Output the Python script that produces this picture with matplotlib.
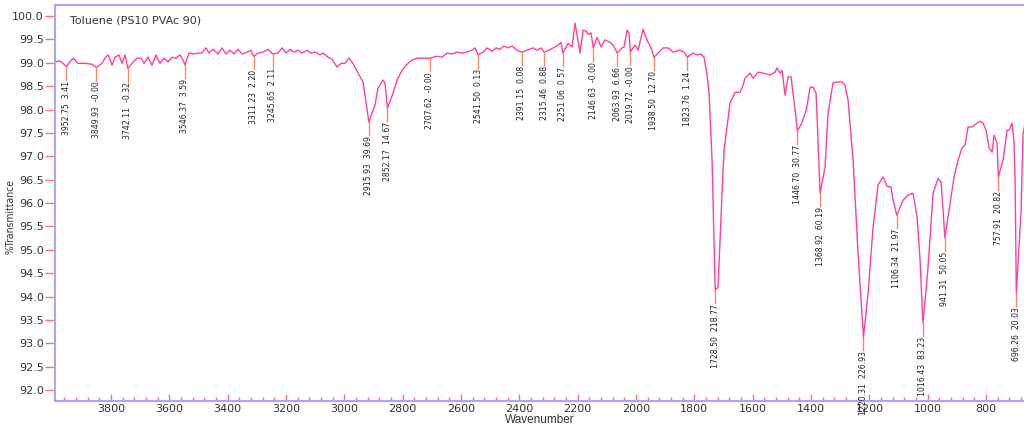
import matplotlib
matplotlib.use("Agg")
import matplotlib.pyplot as plt
from matplotlib.ticker import MultipleLocator, FormatStrFormatter
import numpy as np

# spectrum (wavenumber, %T)
wavenumber = [3992.0, 3974.9, 3964.6, 3952.8, 3938.7, 3928.4, 3914.7, 3901.0, 3887.3, 3865.1,
              3849.9, 3830.9, 3820.6, 3810.3, 3803.4, 3796.6, 3786.3, 3772.6, 3762.3, 3752.0,
              3742.1, 3728.0, 3710.9, 3697.1, 3686.9, 3673.1, 3659.4, 3645.7, 3632.0, 3618.3,
              3604.6, 3590.9, 3577.1, 3563.4, 3553.1, 3546.4, 3532.6, 3515.4, 3501.7, 3488.0,
              3474.3, 3464.0, 3450.3, 3433.1, 3419.4, 3405.7, 3392.0, 3378.3, 3364.6, 3350.9,
              3333.7, 3320.0, 3311.2, 3296.0, 3278.9, 3261.7, 3245.7, 3227.4, 3213.7, 3200.0,
              3186.3, 3172.6, 3158.9, 3145.1, 3128.0, 3114.3, 3100.6, 3083.4, 3073.1, 3056.0,
              3042.3, 3025.1, 3011.4, 2997.7, 2984.0, 2970.3, 2953.1, 2936.0, 2925.7, 2915.9,
              2894.9, 2884.6, 2867.4, 2860.6, 2852.2, 2833.1, 2819.4, 2802.3, 2785.1, 2768.0,
              2750.9, 2730.3, 2707.6, 2682.3, 2665.1, 2648.0, 2630.9, 2613.7, 2596.6, 2579.4,
              2562.3, 2552.0, 2541.5, 2524.6, 2510.9, 2493.7, 2480.0, 2466.3, 2452.6, 2438.9,
              2425.1, 2408.0, 2391.2, 2373.7, 2353.1, 2339.4, 2325.7, 2315.5, 2298.3, 2284.6,
              2267.4, 2257.1, 2251.1, 2233.1, 2219.4, 2209.1, 2202.3, 2192.0, 2181.7, 2171.4,
              2164.6, 2154.3, 2146.6, 2133.7, 2120.0, 2106.3, 2089.1, 2078.9, 2063.9, 2048.0,
              2041.1, 2030.9, 2024.0, 2019.7, 2003.4, 1993.1, 1976.0, 1962.3, 1948.6, 1938.5,
              1921.1, 1907.4, 1890.3, 1873.1, 1849.1, 1835.4, 1823.8, 1804.6, 1790.9, 1777.1,
              1766.9, 1756.6, 1749.7, 1739.4, 1728.5, 1718.9, 1705.1, 1698.3, 1677.7, 1660.6,
              1643.4, 1633.1, 1626.3, 1609.1, 1598.9, 1581.7, 1564.6, 1540.6, 1523.4, 1516.6,
              1506.3, 1499.4, 1489.1, 1478.9, 1468.6, 1454.9, 1446.7, 1430.5, 1416.7, 1403.1,
              1393.1, 1382.7, 1375.9, 1368.9, 1352.0, 1341.7, 1324.6, 1310.9, 1293.7, 1283.4,
              1273.1, 1256.0, 1238.9, 1220.3, 1204.6, 1187.4, 1170.3, 1153.1, 1139.4, 1125.7,
              1118.9, 1106.3, 1084.6, 1067.4, 1050.3, 1036.6, 1026.3, 1016.4, 998.9, 981.7,
              964.6, 954.3, 947.4, 941.3, 923.4, 909.7, 896.0, 882.3, 872.0, 861.7,
              848.0, 830.9, 820.6, 810.3, 800.0, 789.7, 779.4, 772.6, 762.3, 757.9,
              741.7, 728.0, 721.1, 710.9, 704.0, 700.6, 696.3, 680.0, 673.1, 662.9]
transmittance = [99.02, 99.04, 98.99, 98.92, 99.04, 99.10, 98.99, 98.99, 98.99, 98.97,
                 98.90, 98.99, 99.10, 99.17, 99.08, 98.95, 99.12, 99.17, 98.99, 99.17,
                 98.88, 98.99, 99.10, 99.10, 98.99, 99.12, 98.95, 99.17, 98.99, 99.10,
                 99.02, 99.12, 99.10, 99.17, 99.06, 98.96, 99.21, 99.19, 99.21, 99.21,
                 99.32, 99.21, 99.29, 99.19, 99.32, 99.19, 99.27, 99.19, 99.29, 99.19,
                 99.23, 99.27, 99.14, 99.21, 99.23, 99.29, 99.19, 99.21, 99.32, 99.21,
                 99.29, 99.23, 99.27, 99.21, 99.27, 99.21, 99.23, 99.17, 99.21, 99.12,
                 99.08, 98.91, 98.99, 98.99, 99.10, 98.99, 98.78, 98.59, 98.16, 97.73,
                 98.10, 98.46, 98.63, 98.57, 98.03, 98.35, 98.63, 98.84, 98.97, 99.06,
                 99.10, 99.10, 99.10, 99.14, 99.12, 99.21, 99.19, 99.23, 99.21, 99.23,
                 99.27, 99.32, 99.17, 99.23, 99.32, 99.25, 99.32, 99.29, 99.36, 99.32,
                 99.36, 99.27, 99.23, 99.27, 99.32, 99.27, 99.32, 99.23, 99.27, 99.32,
                 99.38, 99.44, 99.21, 99.42, 99.34, 99.85, 99.59, 99.21, 99.70, 99.68,
                 99.61, 99.64, 99.32, 99.55, 99.34, 99.49, 99.44, 99.38, 99.21, 99.32,
                 99.34, 99.70, 99.64, 99.23, 99.38, 99.27, 99.72, 99.49, 99.32, 99.12,
                 99.23, 99.32, 99.32, 99.23, 99.27, 99.23, 99.12, 99.21, 99.17, 99.19,
                 99.12, 98.74, 98.35, 96.92, 94.14, 94.20, 96.21, 97.13, 98.14, 98.37,
                 98.37, 98.52, 98.67, 98.78, 98.67, 98.80, 98.78, 98.74, 98.80, 98.89,
                 98.78, 98.84, 98.31, 98.70, 98.70, 97.99, 97.54, 97.73, 97.99, 98.48,
                 98.48, 98.35, 97.28, 96.21, 96.77, 97.93, 98.57, 98.59, 98.59, 98.52,
                 98.20, 96.92, 94.93, 93.13, 94.07, 95.49, 96.39, 96.56, 96.36, 96.34,
                 96.06, 95.74, 96.06, 96.17, 96.21, 95.70, 94.78, 93.43, 94.63, 96.21,
                 96.53, 96.45, 95.85, 95.25, 96.00, 96.56, 96.92, 97.18, 97.24, 97.63,
                 97.63, 97.71, 97.75, 97.71, 97.56, 97.18, 97.09, 97.45, 97.28, 96.56,
                 96.92, 97.56, 97.56, 97.71, 97.28, 96.50, 94.07, 95.85, 97.50, 97.78]

# peak picks: position and intensity as printed
peak_wn = [3952.75, 3849.93, 3742.11, 3546.37, 3311.23, 3245.65, 2915.93, 2852.17, 2707.62,
           2541.50, 2391.15, 2315.46, 2251.06, 2146.63, 2063.93, 2019.72, 1938.50, 1823.76,
           1728.50, 1446.70, 1368.92, 1220.31, 1106.34, 1016.43, 941.31, 757.91, 696.26]
peak_val = [3.41, -0.0, -0.32, 3.59, 2.20, 2.11, 39.69, 14.67, -0.0,
            0.13, 0.08, 0.88, 0.57, -0.0, 6.66, -0.0, 12.70, 1.24,
            218.77, 30.77, 60.19, 226.93, 21.97, 83.23, 50.05, 20.82, 20.03]

title = "Toluene (PS10 PVAc 90)"

spine_col = "#a6a6ff"
tick_col = "#ff7070"
line_col = "#ff3fa0"
pick_col = "#f08a60"

fig = plt.figure(figsize=(10.24, 4.29), dpi=100)
ax = fig.add_axes([0.0537, 0.0653, 0.9463, 0.9227])

wn = np.array(wavenumber)
tr = np.array(transmittance)
ax.plot(wn, tr, color=line_col, lw=1.0)

y_at = np.interp(peak_wn, wn[::-1], tr[::-1])
for x, y0, v in zip(peak_wn, y_at, peak_val):
    y1 = y0 - 0.28
    ax.plot([x, x], [y0, y1], color=pick_col, lw=1.0)
    ax.text(x, y1 - 0.02, f"{x:.2f}  {v:.2f}", rotation=90, ha="center", va="top",
            fontsize=6.2, family="DejaVu Sans", fontstretch="condensed", color="#222222")

ax.set_xlim(3992, 670)
ax.set_ylim(91.765, 100.235)

ax.xaxis.set_major_locator(MultipleLocator(200))
ax.xaxis.set_minor_locator(MultipleLocator(40))
ax.yaxis.set_major_locator(MultipleLocator(0.5))
ax.yaxis.set_major_formatter(FormatStrFormatter("%.1f"))

ax.tick_params(axis="x", which="major", direction="in", length=5, width=1, color=tick_col,
               labelsize=8, labelcolor="#333333", pad=2)
ax.tick_params(axis="x", which="minor", direction="in", length=3, width=1, color=tick_col)
ax.tick_params(axis="y", which="major", direction="out", length=7, width=1, color=tick_col,
               labelsize=8, labelcolor="#333333", pad=1)

for side in ["left", "bottom", "top"]:
    ax.spines[side].set_color(spine_col)
    ax.spines[side].set_linewidth(1.5)
ax.spines["right"].set_visible(False)

ax.text(0.0155, 0.962, title, transform=ax.transAxes, ha="left", va="center",
        fontsize=8, color="#333333")
ax.set_xlabel("Wavenumber", fontsize=8.5, family="Liberation Sans", color="#333333", labelpad=0)
ax.set_ylabel("%Transmittance", fontsize=7.5, family="DejaVu Sans", fontstretch="condensed",
              color="#333333")
ax.yaxis.set_label_coords(-0.041, 0.467)

fig.savefig("out.png", dpi=100)
